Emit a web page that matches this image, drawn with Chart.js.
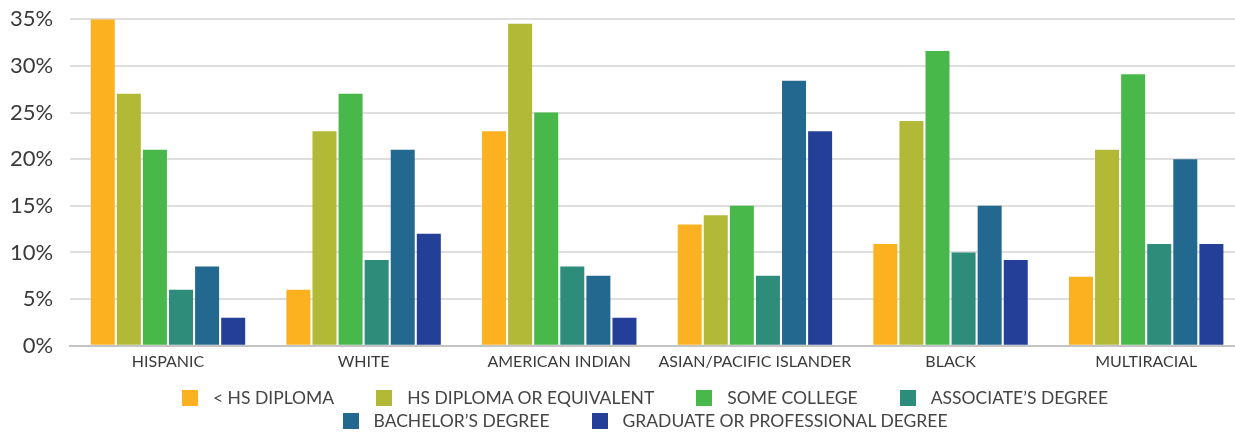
<!DOCTYPE html>
<html>
<head>
<meta charset="utf-8">
<script src="https://cdn.jsdelivr.net/npm/chart.js@4"></script>
<style>
  html, body { margin: 0; padding: 0; background: #fff; overflow: hidden; }
  #wrap { position: relative; width: 1235px; height: 433px; overflow: hidden; }
  #eduChart { position: absolute; left: 0; top: -11px; }
  #legend {
    position: absolute; left: 140px; top: 386px; width: 1010px;
    display: flex; flex-wrap: wrap; justify-content: center;
    font-family: Lato, sans-serif; font-size: 17.5px; color: #444;
    line-height: 23px;
  }
  #legend .item { display: flex; align-items: center; margin: 0 21px; }
  #legend .box { width: 16px; height: 16px; margin-right: 15px; }
</style>
</head>
<body>
<div id="wrap">
  <canvas id="eduChart" width="1244" height="444"></canvas>
  <div id="legend"></div>
</div>
<script>
const groups = ["HISPANIC", "WHITE", "AMERICAN INDIAN", "ASIAN/PACIFIC ISLANDER", "BLACK", "MULTIRACIAL"];
const levels = ["< HS DIPLOMA", "HS DIPLOMA OR EQUIVALENT", "SOME COLLEGE", "ASSOCIATE\u02BCS DEGREE", "BACHELOR\u02BCS DEGREE", "GRADUATE OR PROFESSIONAL DEGREE"];

const lessThanHs   = [35, 6, 23, 13, 10.9, 7.4];
const hsDiploma    = [27, 23, 34.5, 14, 24.1, 21];
const someCollege  = [21, 27, 25, 15, 31.6, 29.1];
const associates   = [6, 9.2, 8.5, 7.5, 10, 10.9];
const bachelors    = [8.5, 21, 7.5, 28.4, 15, 20];
const graduate     = [3, 12, 3, 23, 9.2, 10.9];

const seriesValues = [lessThanHs, hsDiploma, someCollege, associates, bachelors, graduate];
const colors = ["#fbb120", "#b2b936", "#49b84a", "#2d8c7a", "#23688f", "#233f98"];

const ctx = document.getElementById("eduChart").getContext("2d");
const chart = new Chart(ctx, {
  type: "bar",
  data: {
    labels: groups,
    datasets: levels.map((name, i) => ({
      label: name,
      data: seriesValues[i],
      backgroundColor: colors[i],
      borderWidth: 0
    }))
  },
  options: {
    responsive: false,
    animation: false,
    layout: { padding: { top: 0, right: 0, left: -7, bottom: 56 } },
    datasets: {
      bar: { categoryPercentage: 0.8, barPercentage: 0.92 }
    },
    scales: {
      x: {
        grid: { display: false, drawTicks: false },
        border: { color: "#c4c4c4", width: 2 },
        ticks: {
          color: "#3a3a3a",
          padding: 6,
          font: { family: "Lato", size: 16 },
          maxRotation: 0,
          autoSkip: false
        }
      },
      y: {
        min: 0,
        max: 35,
        grid: { color: "#dedede", lineWidth: 2, drawTicks: false },
        border: { display: false },
        ticks: {
          stepSize: 5,
          color: "#3a3a3a",
          padding: 17,
          font: { family: "Lato", size: 22 },
          callback: v => v + "%"
        }
      }
    },
    plugins: {
      legend: { display: false },
      tooltip: { enabled: false }
    }
  }
});

// legend built from the chart's own datasets
const legendEl = document.getElementById("legend");
chart.data.datasets.forEach(ds => {
  const item = document.createElement("div");
  item.className = "item";
  item.innerHTML = `<span class="box" style="background:${ds.backgroundColor}"></span><span></span>`;
  item.lastChild.textContent = ds.label;
  legendEl.appendChild(item);
});
</script>
</body>
</html>
